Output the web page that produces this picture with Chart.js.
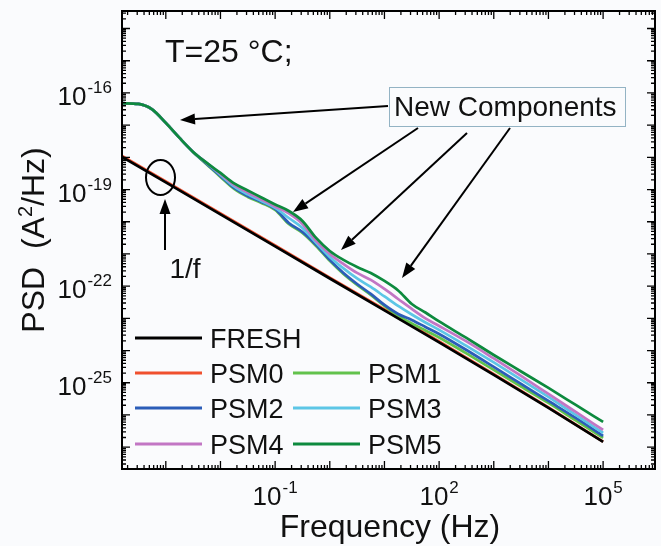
<!DOCTYPE html>
<html>
<head>
<meta charset="utf-8">
<script src="https://cdn.jsdelivr.net/npm/chart.js@4.4.0/dist/chart.umd.min.js"></script>
<style>
  html, body { margin: 0; padding: 0; background: #fafbfd; }
  canvas { display: block; }
</style>
</head>
<body>
<canvas id="psd" width="661" height="546"></canvas>
<script>
// Frequency grid (Hz) shared by the PSM curves
const freqHz = [1.58e-4, 3.16e-4, 5.62e-4, 1e-3, 1.78e-3, 3.16e-3, 5.62e-3, 1e-2, 1.78e-2, 3.16e-2,
  5.62e-2, 0.1, 0.178, 0.316, 0.562, 1, 1.78, 3.16, 5.62, 10,
  17.8, 31.6, 56.2, 100, 316, 1e3, 3.16e3, 1e4, 3.16e4, 1e5];

// Frequency grid (Hz) for the plain 1/f curves
const freqLine = [1.58e-4, 1e-3, 1e-2, 0.1, 1, 10, 100, 1e3, 1e4, 1e5];

// PSD values (A^2/Hz)
const psdFresh = [1.03e-18, 1.66e-19, 1.69e-20, 1.71e-21, 1.73e-22, 1.76e-23, 1.79e-24, 1.75e-25, 1.65e-26, 1.45e-27];
const psdPSM0  = [1.10e-18, 1.78e-19, 1.81e-20, 1.83e-21, 1.85e-22, 1.88e-23, 1.91e-24, 1.85e-25, 1.72e-26, 1.48e-27];

const psdPSM1 = [4.79e-17, 4.55e-17, 3.08e-17, 1.17e-17, 4.00e-18, 1.47e-18, 6.03e-19, 2.46e-19, 1.04e-19, 5.89e-20,
  3.84e-20, 2.32e-20, 8.55e-21, 4.49e-21, 1.77e-21, 6.07e-22, 2.39e-22, 1.09e-22, 5.33e-23, 2.43e-23,
  1.19e-23, 6.95e-24, 4.21e-24, 2.55e-24, 8.13e-25, 2.50e-25, 7.67e-26, 2.36e-26, 6.75e-27, 1.93e-27];

const psdPSM2 = [4.79e-17, 4.55e-17, 3.08e-17, 1.17e-17, 4.00e-18, 1.47e-18, 6.24e-19, 2.64e-19, 1.12e-19, 6.32e-20,
  4.12e-20, 2.50e-20, 9.18e-21, 4.82e-21, 1.91e-21, 6.52e-22, 2.57e-22, 1.17e-22, 5.73e-23, 2.61e-23,
  1.37e-23, 8.91e-24, 5.41e-24, 3.28e-24, 1.04e-24, 3.10e-25, 9.18e-26, 2.72e-26, 8.07e-27, 2.23e-27];

const psdPSM3 = [4.79e-17, 4.55e-17, 3.08e-17, 1.17e-17, 4.00e-18, 1.47e-18, 6.70e-19, 2.84e-19, 1.25e-19, 7.05e-20,
  4.43e-20, 2.69e-20, 1.31e-20, 6.41e-21, 2.20e-21, 8.07e-22, 3.55e-22, 1.73e-22, 9.44e-23, 4.79e-23,
  2.43e-23, 1.32e-23, 7.46e-24, 4.37e-24, 1.39e-24, 4.27e-25, 1.26e-25, 3.62e-26, 1.00e-26, 2.76e-27];

const psdPSM4 = [4.79e-17, 4.55e-17, 3.08e-17, 1.17e-17, 4.00e-18, 1.47e-18, 6.70e-19, 3.05e-19, 1.39e-19, 8.13e-20,
  4.93e-20, 2.99e-20, 1.81e-20, 8.55e-21, 2.54e-21, 1.00e-21, 4.89e-22, 2.57e-22, 1.56e-22, 8.18e-23,
  4.00e-23, 1.96e-23, 9.93e-24, 5.81e-24, 1.92e-24, 5.69e-25, 1.63e-25, 4.49e-26, 1.24e-26, 3.42e-27];

const psdPSM5 = [4.79e-17, 4.55e-17, 3.08e-17, 1.17e-17, 4.00e-18, 1.47e-18, 6.70e-19, 3.28e-19, 1.55e-19, 9.38e-20,
  5.69e-20, 3.44e-20, 2.16e-20, 1.06e-20, 3.14e-21, 1.24e-21, 6.52e-22, 3.94e-22, 2.57e-22, 1.45e-22,
  7.35e-23, 2.80e-23, 1.52e-23, 8.00e-24, 2.46e-24, 7.29e-25, 2.24e-25, 6.90e-26, 2.05e-26, 6.07e-27];

// Labelled decades on each axis (powers of ten)
const xTickExponents = [-1, 2, 5];
const yTickExponents = [-16, -19, -22, -25];

const seriesLabels = ['FRESH', 'PSM0', 'PSM1', 'PSM2', 'PSM3', 'PSM4', 'PSM5'];
const seriesColors = ['#000000', '#f0502e', '#62c24c', '#2b5db8', '#5cc6e6', '#c276c4', '#0d8a3e'];

const FONT = '"Liberation Sans", Arial, Helvetica, sans-serif';
const BG = '#fafbfd';

function pts(xs, ys) { return xs.map((x, i) => ({ x: x, y: ys[i] })); }

const seriesData = [
  pts(freqLine, psdFresh), pts(freqLine, psdPSM0),
  pts(freqHz, psdPSM1), pts(freqHz, psdPSM2), pts(freqHz, psdPSM3),
  pts(freqHz, psdPSM4), pts(freqHz, psdPSM5)
];
// lower order is painted on top
const drawOrder = [0, 6, 5, 4, 3, 2, 1];

const datasets = seriesLabels.map((lab, i) => ({
  label: lab,
  data: seriesData[i],
  borderColor: seriesColors[i],
  backgroundColor: seriesColors[i],
  borderWidth: 2.7,
  pointRadius: 0,
  fill: false,
  order: drawOrder[i],
  tension: 0,
  cubicInterpolationMode: i < 2 ? 'default' : 'monotone'
}));

// Draws "10" with a raised exponent
function drawPower(ctx, exp, x, y, align) {
  const base = '10', sup = String(exp);
  ctx.font = '26px ' + FONT;
  const wb = ctx.measureText(base).width;
  ctx.font = '17px ' + FONT;
  const ws = ctx.measureText(sup).width;
  const total = wb + ws + 1;
  const x0 = align === 'right' ? x - total : x - total / 2;
  ctx.textAlign = 'left';
  ctx.textBaseline = 'alphabetic';
  ctx.font = '26px ' + FONT;
  ctx.fillText(base, x0, y);
  ctx.font = '17px ' + FONT;
  ctx.fillText(sup, x0 + wb + 1, y - 12);
}

function drawArrow(ctx, x1, y1, x2, y2) {
  const a = Math.atan2(y2 - y1, x2 - x1);
  const hl = 15, hw = 5.5;
  const bx = x2 - hl * Math.cos(a), by = y2 - hl * Math.sin(a);
  ctx.beginPath();
  ctx.moveTo(x1, y1);
  ctx.lineTo(bx, by);
  ctx.stroke();
  ctx.beginPath();
  ctx.moveTo(x2, y2);
  ctx.lineTo(bx + hw * Math.sin(a), by - hw * Math.cos(a));
  ctx.lineTo(bx - hw * Math.sin(a), by + hw * Math.cos(a));
  ctx.closePath();
  ctx.fill();
}

const backgroundPlugin = {
  id: 'background',
  beforeDraw(chart) {
    const c = chart.ctx;
    c.save();
    c.fillStyle = BG;
    c.fillRect(0, 0, chart.width, chart.height);
    c.restore();
  }
};

// Frame, inward log ticks, tick labels, titles, legend and callouts
const decorPlugin = {
  id: 'decor',
  afterDatasetsDraw(chart) {
    const c = chart.ctx;
    const area = chart.chartArea;
    const xs = chart.scales.x, ys = chart.scales.y;
    c.save();

    // log ticks on all four sides
    c.strokeStyle = '#000';
    c.lineWidth = 1.3;
    const majorLen = 8, minorLen = 4;
    function ticksFor(scale, min, max, cb) {
      const lo = Math.floor(Math.log10(min)), hi = Math.ceil(Math.log10(max));
      for (let e = lo; e <= hi; e++) {
        for (let k = 1; k <= 9; k++) {
          const v = k * Math.pow(10, e);
          if (v < min * 0.999 || v > max * 1.001) continue;
          cb(scale.getPixelForValue(v), k === 1 ? majorLen : minorLen);
        }
      }
    }
    c.beginPath();
    ticksFor(xs, xs.min, xs.max, (px, len) => {
      c.moveTo(px, area.bottom); c.lineTo(px, area.bottom - len);
      c.moveTo(px, area.top); c.lineTo(px, area.top + len);
    });
    ticksFor(ys, ys.min, ys.max, (py, len) => {
      c.moveTo(area.left, py); c.lineTo(area.left + len, py);
      c.moveTo(area.right, py); c.lineTo(area.right - len, py);
    });
    c.stroke();

    // frame
    c.lineWidth = 2;
    c.strokeRect(area.left, area.top, area.right - area.left, area.bottom - area.top);

    // tick labels
    c.fillStyle = '#111';
    xTickExponents.forEach(e => drawPower(c, e, xs.getPixelForValue(Math.pow(10, e)), area.bottom + 36, 'center'));
    yTickExponents.forEach(e => drawPower(c, e, area.left - 10, ys.getPixelForValue(Math.pow(10, e)) + 12, 'right'));

    // x title
    c.font = '32px ' + FONT;
    c.textAlign = 'center';
    c.textBaseline = 'alphabetic';
    c.fillText('Frequency (Hz)', 390, 537);

    // y title, rotated
    c.save();
    c.translate(44, 240);
    c.rotate(-Math.PI / 2);
    const parts = [['PSD  (A', 32, 0], ['2', 20, -12], ['/Hz)', 32, 0]];
    let tw = 0;
    parts.forEach(p => { c.font = p[1] + 'px ' + FONT; tw += c.measureText(p[0]).width; });
    let cx = -tw / 2;
    c.textAlign = 'left';
    parts.forEach(p => {
      c.font = p[1] + 'px ' + FONT;
      c.fillText(p[0], cx, p[2]);
      cx += c.measureText(p[0]).width;
    });
    c.restore();

    // condition label
    c.font = '32px ' + FONT;
    c.textAlign = 'left';
    c.fillText('T=25 \u00B0C;', 165, 62);

    // legend
    const rows = [
      { i: 0, col: 0, row: 0 },
      { i: 1, col: 0, row: 1 }, { i: 2, col: 1, row: 1 },
      { i: 3, col: 0, row: 2 }, { i: 4, col: 1, row: 2 },
      { i: 5, col: 0, row: 3 }, { i: 6, col: 1, row: 3 }
    ];
    const colX = [135, 293], rowY = [338, 373, 408, 444], lineLen = 67;
    c.font = '27px ' + FONT;
    rows.forEach(r => {
      const ds = chart.data.datasets[r.i];
      const x0 = colX[r.col], y0 = rowY[r.row];
      c.strokeStyle = ds.borderColor;
      c.lineWidth = 3;
      c.beginPath();
      c.moveTo(x0, y0); c.lineTo(x0 + lineLen, y0);
      c.stroke();
      c.fillStyle = '#111';
      c.fillText(ds.label, x0 + lineLen + 8, y0 + 10);
    });

    // callout box
    c.fillStyle = BG;
    c.fillRect(389, 87, 236, 39);
    c.strokeStyle = '#93b3c4';
    c.lineWidth = 1;
    c.strokeRect(389.5, 87.5, 236, 39);
    c.fillStyle = '#111';
    c.font = '28px ' + FONT;
    c.fillText('New Components', 394, 116);

    // arrows
    c.strokeStyle = '#000';
    c.fillStyle = '#000';
    c.lineWidth = 2;
    drawArrow(c, 388, 106, 180, 120);
    drawArrow(c, 418, 128, 293, 212);
    drawArrow(c, 467, 133, 341, 250);
    drawArrow(c, 510, 128, 402, 278);
    drawArrow(c, 165, 250, 165, 199);

    // 1/f marker
    c.beginPath();
    c.ellipse(160.5, 177.5, 14.5, 17.5, 0, 0, Math.PI * 2);
    c.stroke();
    c.fillStyle = '#111';
    c.font = '28px ' + FONT;
    c.textAlign = 'center';
    c.fillText('1/f', 185, 278);

    c.restore();
  }
};

new Chart(document.getElementById('psd').getContext('2d'), {
  type: 'line',
  data: { datasets: datasets },
  options: {
    responsive: false,
    animation: false,
    devicePixelRatio: 1,
    layout: { padding: { left: 122, top: 11, right: 6, bottom: 77 } },
    plugins: { legend: { display: false }, tooltip: { enabled: false } },
    elements: { point: { radius: 0 } },
    scales: {
      x: { type: 'logarithmic', min: 1.58e-4, max: 8.9e5, display: false },
      y: { type: 'logarithmic', min: 2.1e-28, max: 3.5e-14, display: false }
    }
  },
  plugins: [backgroundPlugin, decorPlugin]
});
</script>
</body>
</html>
